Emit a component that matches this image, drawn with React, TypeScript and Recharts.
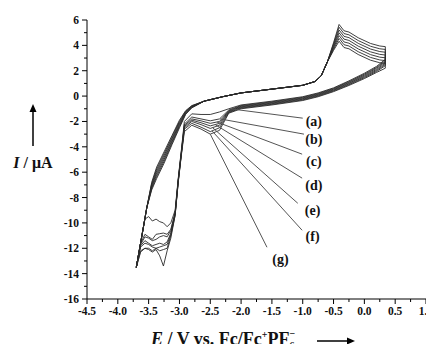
import { LineChart, Line, XAxis, YAxis, ReferenceLine, ReferenceDot } from 'recharts';

const SERIF = '"Liberation Serif", "Times New Roman", serif';

// potential of the sweep (V vs. Fc/Fc+PF6-): +0.34 V down to -3.7 V, then back up
const sweepE = [
  0.34, 0.34, 0.2, 0.0, -0.25, -0.5, -0.75, -1.0, -1.5, -2.0, -2.2, -2.35, -2.5, -2.65, -2.8,
  -2.92, -2.97, -3.02, -3.07, -3.14, -3.2, -3.26, -3.32, -3.38, -3.44, -3.5, -3.56, -3.63, -3.7,
  -3.62, -3.53, -3.45, -3.37, -3.25, -3.12, -3.0, -2.9, -2.8, -2.6, -2.3, -2.0, -1.5, -1.0,
  -0.8, -0.7, -0.6, -0.5, -0.41, -0.33, -0.25, -0.1, 0.1, 0.25, 0.34,
];

// current (µA) at each sweepE point, one array per trace
const currentA = [
  3.9, 2.9, 2.35, 1.8, 1.2, 0.65, 0.25, -0.05, -0.4, -0.7, -1.0, -1.25, -1.45, -1.45, -1.4,
  -2.0, -4.3, -6.5, -9.0, -10.0, -10.3, -10.0, -9.9, -9.7, -9.85, -9.5, -9.7, -11.6, -13.5,
  -11.3, -8.8, -6.8, -5.6, -4.4, -3.1, -1.9, -1.15, -0.75, -0.4, -0.05, 0.25, 0.55, 0.85,
  1.15, 1.6, 2.7, 4.2, 5.65, 5.15, 5.05, 4.6, 4.15, 3.95, 3.9,
];
const currentB = [
  3.68, 2.8, 2.27, 1.73, 1.14, 0.6, 0.2, -0.1, -0.45, -0.75, -1.1, -1.8, -1.95, -1.8, -1.65,
  -2.2, -4.4, -6.6, -9.2, -10.5, -10.9, -10.8, -10.85, -10.9, -11.3, -11.1, -10.9, -11.6, -13.5,
  -11.3, -8.8, -6.9, -5.75, -4.55, -3.22, -2.0, -1.2, -0.78, -0.4, -0.05, 0.25, 0.55, 0.85,
  1.15, 1.6, 2.7, 4.1, 5.43, 4.93, 4.83, 4.38, 3.93, 3.73, 3.68,
];
const currentC = [
  3.46, 2.7, 2.2, 1.66, 1.08, 0.55, 0.15, -0.15, -0.5, -0.8, -1.15, -2.0, -2.15, -1.95, -1.8,
  -2.3, -4.5, -6.6, -9.2, -10.6, -11.1, -11.0, -11.1, -11.3, -11.4, -11.2, -11.1, -11.7, -13.5,
  -11.3, -8.8, -7.0, -5.9, -4.7, -3.34, -2.1, -1.25, -0.81, -0.4, -0.05, 0.25, 0.55, 0.85,
  1.15, 1.6, 2.7, 4.0, 5.21, 4.71, 4.61, 4.16, 3.71, 3.51, 3.46,
];
const currentD = [
  3.24, 2.6, 2.11, 1.59, 1.02, 0.5, 0.1, -0.2, -0.55, -0.85, -1.2, -2.15, -2.35, -2.1, -1.9,
  -2.4, -4.5, -6.7, -9.3, -10.8, -11.5, -11.7, -11.6, -11.7, -11.8, -11.6, -11.4, -11.8, -13.5,
  -11.3, -8.8, -7.1, -6.05, -4.85, -3.46, -2.2, -1.3, -0.84, -0.4, -0.05, 0.25, 0.55, 0.85,
  1.15, 1.6, 2.7, 3.9, 4.99, 4.49, 4.39, 3.94, 3.49, 3.29, 3.24,
];
const currentE = [
  3.02, 2.5, 2.03, 1.52, 0.96, 0.45, 0.05, -0.25, -0.6, -0.9, -1.25, -2.3, -2.55, -2.25, -2.0,
  -2.5, -4.6, -6.7, -9.3, -10.9, -11.7, -11.8, -11.9, -12.0, -11.9, -11.7, -11.6, -11.9, -13.5,
  -11.3, -8.8, -7.2, -6.2, -5.0, -3.58, -2.3, -1.35, -0.87, -0.4, -0.05, 0.25, 0.55, 0.85,
  1.15, 1.6, 2.7, 3.8, 4.77, 4.27, 4.17, 3.72, 3.27, 3.07, 3.02,
];
const currentF = [
  2.8, 2.4, 1.95, 1.45, 0.9, 0.4, 0.0, -0.3, -0.65, -0.95, -1.3, -2.5, -2.8, -2.45, -2.15,
  -2.6, -4.6, -6.8, -9.4, -11.0, -12.0, -12.1, -12.2, -12.0, -12.2, -12.0, -12.0, -12.2, -13.5,
  -11.3, -8.8, -7.3, -6.35, -5.15, -3.7, -2.4, -1.4, -0.9, -0.4, -0.05, 0.25, 0.55, 0.85,
  1.15, 1.6, 2.7, 3.7, 4.55, 4.05, 3.95, 3.5, 3.05, 2.85, 2.8,
];
const currentG = [
  2.58, 2.2, 1.87, 1.38, 0.84, 0.35, -0.05, -0.35, -0.7, -1.0, -1.35, -2.7, -3.0, -2.6, -2.3,
  -2.8, -4.7, -6.8, -9.4, -11.2, -12.2, -13.4, -12.6, -12.1, -12.3, -12.1, -12.0, -12.3, -13.5,
  -11.3, -8.8, -7.4, -6.5, -5.3, -3.82, -2.5, -1.45, -0.93, -0.4, -0.05, 0.25, 0.55, 0.85,
  1.15, 1.6, 2.7, 3.6, 4.33, 3.83, 3.73, 3.28, 2.83, 2.63, 2.58,
];

const traceNames = ['(a)', '(b)', '(c)', '(d)', '(e)', '(f)', '(g)'];
const traceCurrents = [currentA, currentB, currentC, currentD, currentE, currentF, currentG];

// leader lines: from a point on the trace to its label
const leaderFromE = [-2.18, -2.34, -2.39, -2.42, -2.46, -2.47, -2.5];
const leaderFromI = [-1.0, -1.8, -2.05, -2.25, -2.5, -2.75, -3.0];
const leaderToE = [-1.0, -0.98, -1.01, -1.01, -1.08, -1.01, -1.58];
const leaderToI = [-1.74, -3.0, -4.58, -6.47, -8.45, -10.58, -11.92];
const labelE = [-0.82, -0.82, -0.82, -0.82, -0.84, -0.84, -1.36];
const labelI = [-1.97, -3.39, -5.13, -7.02, -9.0, -11.05, -12.87];

// axis ticks
const xMajor = [-4.5, -4.0, -3.5, -3.0, -2.5, -2.0, -1.5, -1.0, -0.5, 0.0, 0.5, 1.0];
const xMinor = [-4.25, -3.75, -3.25, -2.75, -2.25, -1.75, -1.25, -0.75, -0.25, 0.25, 0.75];
const yMajor = [-16, -14, -12, -10, -8, -6, -4, -2, 0, 2, 4, 6];
const yMinor = [-15, -13, -11, -9, -7, -5, -3, -1, 1, 3, 5];

const traces = traceNames.map((name, i) => ({
  name,
  points: sweepE.map((E, j) => ({ E, I: traceCurrents[i][j] })),
}));

const tickText = {
  fontFamily: SERIF,
  fontWeight: 'bold',
  fontSize: 11.5,
  fill: '#111',
};

const XTick = ({ x, y, payload }: any) => {
  const major = xMajor.includes(payload.value);
  return (
    <g>
      <line x1={x} x2={x} y1={y} y2={y + (major ? 5 : 3)} stroke="#000" />
      {major && (
        <text x={x} y={y + 12} textAnchor="middle" dominantBaseline="central" {...tickText}>
          {payload.value.toFixed(1)}
        </text>
      )}
    </g>
  );
};

const YTick = ({ x, y, payload }: any) => {
  const major = yMajor.includes(payload.value);
  return (
    <g>
      <line x1={x - (major ? 5 : 3)} x2={x} y1={y} y2={y} stroke="#000" />
      {major && (
        <text x={x - 8} y={y} textAnchor="end" dominantBaseline="central" {...tickText}>
          {payload.value}
        </text>
      )}
    </g>
  );
};

const App = () => (
  <div style={{ position: 'relative', width: 434, height: 352, margin: -8 }}>
    <LineChart width={434} height={352} margin={{ top: 20, right: 8, bottom: 0, left: 0 }}>
      <XAxis
        dataKey="E"
        type="number"
        domain={[-4.5, 1.0]}
        ticks={[...xMajor, ...xMinor].sort((a, b) => a - b)}
        interval={0}
        tickSize={0}
        tickMargin={0}
        tickLine={false}
        tick={<XTick />}
        axisLine={{ stroke: '#000' }}
        height={53}
        allowDataOverflow
      />
      <YAxis
        type="number"
        domain={[-16, 6]}
        ticks={[...yMajor, ...yMinor].sort((a, b) => a - b)}
        interval={0}
        tickSize={0}
        tickMargin={0}
        tickLine={false}
        tick={<YTick />}
        axisLine={{ stroke: '#000' }}
        width={87}
        allowDataOverflow
      />
      {traces.map((t) => (
        <Line
          key={t.name}
          name={t.name}
          data={t.points}
          dataKey="I"
          type="linear"
          stroke="#2a2a2a"
          strokeWidth={0.9}
          dot={false}
          activeDot={false}
          isAnimationActive={false}
        />
      ))}
      {traceNames.map((name, i) => (
        <ReferenceLine
          key={'l' + name}
          segment={[
            { x: leaderFromE[i], y: leaderFromI[i] },
            { x: leaderToE[i], y: leaderToI[i] },
          ]}
          stroke="#555"
          strokeWidth={1}
        />
      ))}
      {traceNames.map((name, i) => (
        <ReferenceDot
          key={'d' + name}
          x={labelE[i]}
          y={labelI[i]}
          r={0}
          fill="none"
          stroke="none"
          label={{
            value: name,
            position: 'center',
            fill: '#111',
            fontSize: 14,
            fontWeight: 'bold',
            fontFamily: SERIF,
          }}
        />
      ))}
    </LineChart>
    <svg
      width={434}
      height={352}
      style={{ position: 'absolute', left: 0, top: 0, pointerEvents: 'none' }}
    >
      <line x1={33} x2={33} y1={146} y2={110} stroke="#000" strokeWidth={1.5} />
      <polygon points="33,104 29.5,112 36.5,112" fill="#000" />
      <text
        x={33}
        y={168}
        textAnchor="middle"
        fontFamily={SERIF}
        fontWeight="bold"
        fontSize={16}
        fill="#111"
      >
        <tspan fontStyle="italic">I</tspan>
        {' / μA'}
      </text>
      <text x={151} y={345} fontFamily={SERIF} fontWeight="bold" fontSize={18} fill="#111">
        <tspan fontStyle="italic">E</tspan>
        <tspan>{' / V vs. Fc/Fc'}</tspan>
        <tspan fontSize={10} dy={-7}>+</tspan>
        <tspan dy={7}>PF</tspan>
        <tspan fontSize={10} dy={4}>6</tspan>
        <tspan fontSize={10} dx={-5} dy={-12}>−</tspan>
      </text>
      <line x1={317} x2={348} y1={341} y2={341} stroke="#000" strokeWidth={1.5} />
      <polygon points="355,341 347,337.5 347,344.5" fill="#000" />
    </svg>
  </div>
);

export default App;
